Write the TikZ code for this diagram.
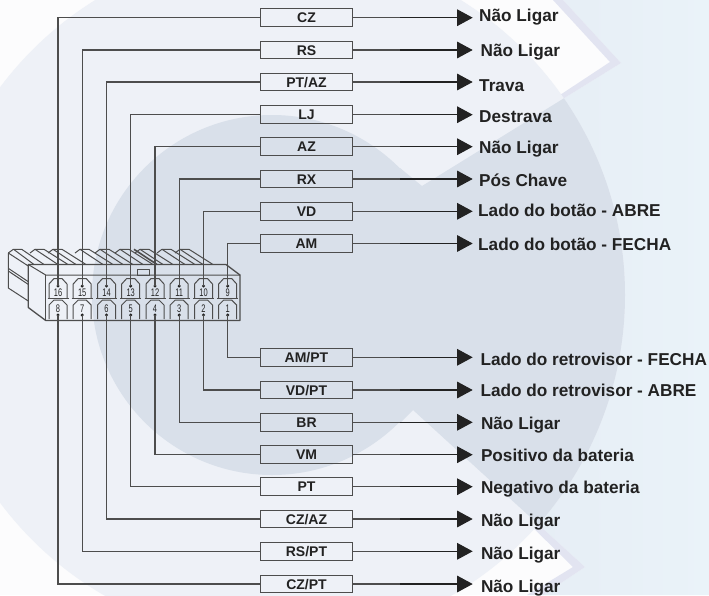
\documentclass[tikz,border=0pt]{standalone}
\usepackage{fontspec}
\setmainfont{Liberation Sans}
\usetikzlibrary{arrows.meta}
\definecolor{bgwhite}{HTML}{FCFCFD}
\definecolor{pale}{HTML}{EEF1F7}
\definecolor{darkdisc}{HTML}{D9E0EA}
\definecolor{lav}{HTML}{E2E4F1}
\definecolor{skyA}{HTML}{E3E9F2}
\definecolor{skyB}{HTML}{EAF3F9}
\definecolor{wirec}{HTML}{4D4D4D}
\definecolor{inkc}{HTML}{222222}
\tikzset{
  wire/.style={draw=wirec,line width=1.1pt},
  wiredark/.style={draw=inkc,line width=1.1pt,-{Triangle[length=15.5pt,width=16.5pt]}},
  colorbox/.style={draw=wirec,line width=1pt,minimum width=91.6pt,minimum height=17.6pt,inner sep=0pt,
    text height=10pt,text depth=0pt,font=\fontsize{14}{14}\selectfont\bfseries,text=inkc},
  lab/.style={anchor=base west,inner sep=0pt,font=\fontsize{17.2}{17.2}\selectfont\bfseries,text=inkc},
  pindot/.style={circle,fill=inkc,inner sep=0pt,minimum size=3.4pt},
  cavnum/.style={inner sep=0pt,font=\fontsize{11}{11}\selectfont,text=inkc,text height=7.9pt,text depth=0pt},
  cav/.style={draw=wirec,line width=1pt,line join=round},
  body/.style={draw=wirec,line width=1pt,line join=round}
}
\begin{document}
\begin{tikzpicture}[x=1pt,y=-1pt]
\useasboundingbox (0,0) rectangle (709,595);
% background
\fill[bgwhite] (0,0) rectangle (709,595);
\def\Ppath{(563,0) -- (709,0) -- (709,595) -- (543,595) -- (585,567) -- (413,410) -- (400,423) -- (300,295) -- (400,168) -- (422,186) -- (621,63) -- cycle}
\begin{scope}
  \clip \Ppath;
  \shade[left color=skyA,right color=skyB] (400,0) rectangle (709,595);
\end{scope}
\fill[lav] (422,186) -- (621,63) -- (563,0) -- (553,0) -- (610,62) -- cycle;
\fill[lav] (413,410) -- (585,567) -- (543,595) -- (527,595) -- (573,567) -- cycle;
\begin{scope}
  \clip (0,0) rectangle (709,595);
  \fill[pale] (278,295) circle[radius=347];
\end{scope}
\begin{scope}
  \clip \Ppath;
  \fill[darkdisc] (278,295) circle[radius=347];
\end{scope}
\fill[darkdisc] (272,295) circle[radius=180];
% connector housing
\foreach \tx in {30,48,75,95,115,135,157,175}{
  \draw[body] (\tx,253) -- (\tx+5,249.3) -- (\tx+14,249.3) -- (\tx+38,264.5);
  \draw[body] (\tx+5,249.3) -- (\tx+28,264.5);
}
\draw[body,line width=1.6pt] (134,249.3) -- (157,264.5);
\draw[body] (8.3,253) -- (13.3,249.3) -- (21.7,249.3) -- (44,264.5);
\draw[body] (8.3,253) -- (28.3,266);
\draw[body] (14,249.6) -- (34,264.5);
\draw[body] (8.3,253) -- (8.3,288) -- (28.3,301);
\draw[body] (8.3,268.3) -- (28.3,281.7);
\draw[body] (8.3,271) -- (28.3,284.4);
\draw[body,line width=1.3pt] (28.3,264.5) -- (226,264.5) -- (240,275) -- (240,320.5) -- (45.7,320.5) -- (28.3,307.5) -- cycle;
\draw[body] (28.3,264.5) -- (45.7,275) -- (240,275);
\draw[body] (45.7,275) -- (45.7,320.5);
\draw[body] (137.3,269.3) rectangle (149.3,275.3);
% cavities and pins
\foreach \x/\up/\lo in {58/16/8,82.2/15/7,106.5/14/6,130.7/13/5,155/12/4,179.2/11/3,203.5/10/2,227.7/9/1}{
  \draw[cav] (\x-9,298) -- (\x-9,284) -- (\x-4,278.5) -- (\x+4,278.5) -- (\x+9,284) -- (\x+9,298);
  \draw[cav] (\x-10.5,298.2) -- (\x+10.5,298.2);
  \draw[cav] (\x-9,319) -- (\x-9,305) -- (\x-4,300) -- (\x+4,300) -- (\x+9,305) -- (\x+9,319);
  \node[cavnum] (n\up) at (\x,292.5) {\scalebox{.68}[1]{\up}};
  \node[cavnum] (n\lo) at (\x,309) {\scalebox{.68}[1]{\lo}};
  \node[pindot] (p\up) at (\x,286) {};
  \node[pindot] (p\lo) at (\x,315) {};
}
% rows
\foreach \pin/\id/\txt/\yy/\lx/\by/\out in {
  16/a/{CZ}/17.7/479/21.7/{Não Ligar},
  15/b/{RS}/50/480.5/56/{Não Ligar},
  14/c/{PT/AZ}/82/479/91.7/{Trava},
  13/d/{LJ}/114.7/479/122.3/{Destrava},
  12/e/{AZ}/146.7/479/153.3/{Não Ligar},
  11/f/{RX}/179/479/186/{Pós Chave},
  10/g/{VD}/211.3/478/216.7/{Lado do botão - ABRE},
  9/h/{AM}/243.5/478/250.7/{Lado do botão - FECHA},
  1/i/{AM/PT}/357.3/480.3/365/{Lado do retrovisor - FECHA},
  2/j/{VD/PT}/390/480.3/396/{Lado do retrovisor - ABRE},
  3/k/{BR}/422.3/480.8/429.3/{Não Ligar},
  4/l/{VM}/454.7/480.8/461/{Positivo da bateria},
  5/m/{PT}/486.7/480.8/493.3/{Negativo da bateria},
  6/n/{CZ/AZ}/519/480.8/526.7/{Não Ligar},
  7/o/{RS/PT}/551.3/480.8/559.3/{Não Ligar},
  8/q/{CZ/PT}/584/480.8/592.7/{Não Ligar}%
}{
  \node[colorbox] (box\id) at (306.5,\yy) {\txt};
  \coordinate (mid\id) at (400,\yy);
  \coordinate (end\id) at (472.7,\yy);
  \node[lab] (lab\id) at (\lx,\by) {\out};
  \draw[wire] (p\pin.center) |- (box\id.west);
  \draw[wire] (box\id.east) -- (mid\id);
  \draw[wiredark] (mid\id) -- (end\id);
}
\end{tikzpicture}
\end{document}
